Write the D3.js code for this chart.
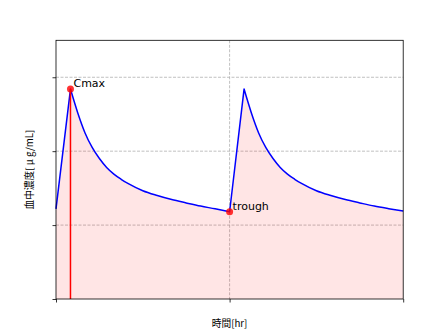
<!DOCTYPE html>
<html>
<head>
<meta charset="utf-8">
<script src="https://cdn.jsdelivr.net/npm/d3@7"></script>
<style>
  body { margin: 0; background: #fff; }
  svg { display: block; }
</style>
</head>
<body>
<div id="chart"></div>
<script>
// 血中濃度の推移（2回投与、12時間間隔）
const timeHr = [0, 1, 1.5, 2, 2.5, 3, 3.5, 4, 4.5, 5, 6, 7, 8, 9, 10, 11, 12,
  13, 13.5, 14, 14.5, 15, 15.5, 16, 16.5, 17, 18, 19, 20, 21, 22, 23, 24];
const concentration = [1.22, 2.84, 2.52, 2.25, 2.05, 1.90, 1.78, 1.69, 1.62, 1.56, 1.465, 1.40, 1.345, 1.30, 1.257, 1.22, 1.18,
  2.84, 2.52, 2.25, 2.05, 1.90, 1.78, 1.69, 1.62, 1.56, 1.465, 1.40, 1.345, 1.30, 1.257, 1.222, 1.19];
// 投与ごとの区切り（上昇は直線、減衰は曲線）
const doseStart = [0, 12];
const doseTmax = [1, 13];
const xTicks = [0, 12, 24];
const yTicks = [0, 1, 2, 3];
const cmaxIndex = 1;
const troughIndex = 16;

const svgwidth = 448;
const svgheight = 336;
const margin = { left: 56, right: 44.8, top: 40.3, bottom: 37 };
const width = svgwidth - margin.left - margin.right;
const height = svgheight - margin.top - margin.bottom;

const data = timeHr.map((t, i) => ({ t, c: concentration[i] }));

const svg = d3.select('#chart').append('svg')
  .attr('width', svgwidth)
  .attr('height', svgheight);

const g = svg.append('g')
  .attr('transform', `translate(${margin.left}, ${margin.top})`);

const x = d3.scaleLinear().domain([0, 24]).range([0, width]);
const y = d3.scaleLinear().domain([0, 3.5]).range([height, 0]);

// グリッド
g.append('g')
  .selectAll('line')
  .data(yTicks.slice(1))
  .enter()
  .append('line')
  .attr('x1', 0)
  .attr('x2', width)
  .attr('y1', d => y(d))
  .attr('y2', d => y(d))
  .attr('stroke', '#b0b0b0')
  .attr('stroke-width', 0.8)
  .attr('stroke-dasharray', '3,1.5');
g.append('g')
  .selectAll('line')
  .data(xTicks.slice(1, -1))
  .enter()
  .append('line')
  .attr('x1', d => x(d))
  .attr('x2', d => x(d))
  .attr('y1', 0)
  .attr('y2', height)
  .attr('stroke', '#b0b0b0')
  .attr('stroke-width', 0.8)
  .attr('stroke-dasharray', '3,1.5');

// 曲線のパス（上昇区間は直線、減衰区間は単調補間）
const linear = d3.line().x(d => x(d.t)).y(d => y(d.c));
const smooth = d3.line().x(d => x(d.t)).y(d => y(d.c)).curve(d3.curveMonotoneX);
let pathD = '';
doseStart.forEach((t0, k) => {
  const tEnd = k + 1 < doseStart.length ? doseStart[k + 1] : 24;
  const rise = data.filter(d => d.t >= t0 && d.t <= doseTmax[k]);
  const fall = data.filter(d => d.t >= doseTmax[k] && d.t <= tEnd);
  const a = linear(rise);
  const b = smooth(fall);
  pathD += (pathD ? a.replace(/^M/, 'L') : a) + b.replace(/^M/, 'L');
});

// 塗りつぶし
g.append('path')
  .attr('d', `${pathD}L${x(24)},${y(0)}L${x(0)},${y(0)}Z`)
  .attr('fill', 'red')
  .attr('fill-opacity', 0.1);

// 濃度曲線
g.append('path')
  .attr('d', pathD)
  .attr('fill', 'none')
  .attr('stroke', 'blue')
  .attr('stroke-width', 1.5)
  .attr('stroke-linejoin', 'round');

// Cmax の縦線
const cmax = data[cmaxIndex];
const trough = data[troughIndex];
g.append('line')
  .attr('x1', x(cmax.t))
  .attr('x2', x(cmax.t))
  .attr('y1', y(0))
  .attr('y2', y(cmax.c))
  .attr('stroke', 'red')
  .attr('stroke-width', 1.5);

// 軸
g.append('g')
  .attr('transform', `translate(0,${height})`)
  .call(d3.axisBottom(x).tickValues(xTicks).tickSize(3.5).tickFormat(() => ''))
  .call(s => s.select('.domain').remove())
  .selectAll('line').attr('stroke', '#000').attr('stroke-width', 0.8);
g.append('g')
  .call(d3.axisLeft(y).tickValues(yTicks).tickSize(3.5).tickFormat(() => ''))
  .call(s => s.select('.domain').remove())
  .selectAll('line').attr('stroke', '#000').attr('stroke-width', 0.8);
g.append('rect')
  .attr('width', width)
  .attr('height', height)
  .attr('fill', 'none')
  .attr('stroke', '#000')
  .attr('stroke-width', 0.8);

// 点とラベル
[[cmax, 'Cmax'], [trough, 'trough']].forEach(([p, label]) => {
  g.append('circle')
    .attr('cx', x(p.t))
    .attr('cy', y(p.c))
    .attr('r', 3.5)
    .attr('fill', 'red')
    .attr('fill-opacity', 0.8);
  g.append('text')
    .attr('x', x(p.t) + 3)
    .attr('y', y(p.c) - 2)
    .attr('font-family', 'DejaVu Sans, sans-serif')
    .attr('font-size', 11)
    .attr('fill', '#000')
    .text(label);
});

// 軸ラベル
svg.append('text')
  .attr('x', margin.left + width / 2)
  .attr('y', 327)
  .attr('text-anchor', 'middle')
  .attr('font-family', 'Noto Sans CJK JP, sans-serif')
  .attr('font-size', 9.7)
  .text('時間[hr]');
svg.append('text')
  .attr('transform', `translate(33, ${margin.top + height / 2}) rotate(-90)`)
  .attr('text-anchor', 'middle')
  .attr('font-family', 'Noto Sans CJK JP, sans-serif')
  .attr('font-size', 9.7)
  .text('血中濃度[ μ g/mL]');
</script>
</body>
</html>
